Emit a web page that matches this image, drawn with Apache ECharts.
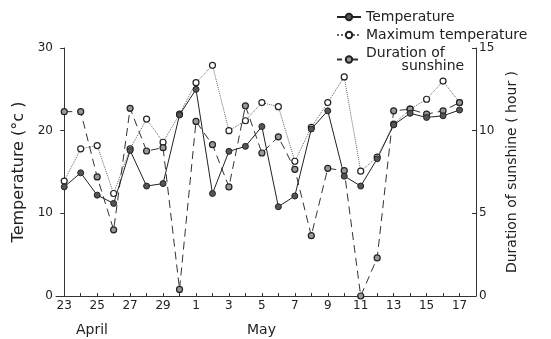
<!DOCTYPE html>
<html>
<head>
<meta charset="utf-8">
<script src="https://cdn.jsdelivr.net/npm/echarts@6/dist/echarts.min.js"></script>
<style>
  html, body { margin: 0; padding: 0; background: #fff; }
  #chart { width: 551px; height: 339px; }
</style>
</head>
<body>
<div id="chart"></div>
<script>
// days from April 23 to May 17
var days = ['23','24','25','26','27','28','29','30','1','2','3','4','5','6','7','8','9','10','11','12','13','14','15','16','17'];
var labelIdx = [0,2,4,6,8,10,12,14,16,18,20,22,24];

var temperature = [13.2, 14.9, 12.2, 11.2, 17.6, 13.3, 13.6, 21.9, 25.0, 12.4, 17.5, 18.1, 20.5,
                   10.8, 12.1, 20.2, 22.4, 14.5, 13.3, 16.6, 20.7, 22.1, 21.6, 21.8, 22.5];
var maxTemperature = [13.9, 17.8, 18.2, 12.4, 17.8, 21.4, 18.6, 22.0, 25.8, 27.9, 20.0, 21.2, 23.4,
                      22.9, 16.3, 20.4, 23.4, 26.5, 15.1, 16.8, 20.8, 22.6, 23.8, 26.0, 23.4];
var sunshine = [11.15, 11.15, 7.2, 4.0, 11.35, 8.77, 8.97, 0.4, 10.56, 9.15, 6.6, 11.5, 8.65,
                9.63, 7.66, 3.65, 7.72, 7.58, 0, 2.3, 11.2, 11.3, 11.0, 11.2, 11.7];

function pairs(arr) {
    return arr.map(function (v, i) { return [i, v]; });
}

var font = 'DejaVu Sans';
var ink = '#222';
var sunName = 'Duration of\n        sunshine';

var myChart = echarts.init(document.getElementById('chart'));
var option = {
    animation: false,
    textStyle: { fontFamily: font, color: ink },
    grid: { left: 56, right: 75, top: 48, bottom: 43 },
    legend: {
        orient: 'vertical',
        left: 331,
        top: 5,
        itemWidth: 24,
        itemHeight: 8,
        itemGap: 4,
        textStyle: { fontFamily: font, fontSize: 14, color: ink, lineHeight: 13 },
        data: [
            { name: 'Temperature' },
            { name: 'Maximum temperature' },
            { name: sunName, lineStyle: { type: [5, 3] } }
        ]
    },
    xAxis: {
        type: 'value',
        min: -0.5,
        max: 25,
        axisLine: { show: true, lineStyle: { color: '#333', width: 1 } },
        axisTick: { show: true, inside: true, length: 3, customValues: days.map(function (d, i) { return i; }), lineStyle: { color: '#333' } },
        axisLabel: {
            customValues: labelIdx,
            fontSize: 12, color: ink, margin: 4,
            formatter: function (v) { return days[Math.round(v)]; }
        },
        splitLine: { show: false }
    },
    yAxis: [{
        type: 'value',
        min: 0, max: 30, interval: 10,
        name: 'Temperature (°c )',
        nameLocation: 'middle',
        nameGap: 27,
        nameRotate: 90,
        nameTextStyle: { fontSize: 16, color: ink, fontFamily: font },
        axisLine: { show: true, lineStyle: { color: '#333' } },
        axisTick: { show: true, length: 4, lineStyle: { color: '#333' } },
        axisLabel: { fontSize: 12, color: ink, margin: 3 },
        splitLine: { show: false }
    }, {
        type: 'value',
        min: 0, max: 15, interval: 5,
        name: 'Duration of sunshine ( hour )',
        nameLocation: 'middle',
        nameGap: 26,
        nameRotate: 90,
        nameTextStyle: { fontSize: 14, color: ink, fontFamily: font },
        axisLine: { show: true, lineStyle: { color: '#333' } },
        axisTick: { show: true, inside: true, length: 4, lineStyle: { color: '#333' } },
        axisLabel: { fontSize: 12, color: ink, margin: 3 },
        splitLine: { show: false }
    }],
    graphic: [
        { type: 'text', left: 76, top: 323, style: { text: 'April', font: '14px "DejaVu Sans"', fill: ink } },
        { type: 'text', left: 247, top: 323, style: { text: 'May', font: '14px "DejaVu Sans"', fill: ink } }
    ],
    series: [{
        name: 'Maximum temperature',
        type: 'line',
        yAxisIndex: 0,
        data: pairs(maxTemperature),
        symbol: 'circle',
        symbolSize: 6,
        lineStyle: { color: '#666', width: 1, type: 'dotted' },
        itemStyle: { color: '#fff', borderColor: '#222', borderWidth: 1.2 }
    }, {
        name: sunName,
        type: 'line',
        yAxisIndex: 1,
        data: pairs(sunshine),
        symbol: 'circle',
        symbolSize: 6,
        lineStyle: { color: '#333', width: 1, type: [8, 5] },
        itemStyle: { color: '#999', borderColor: '#222', borderWidth: 1.2 }
    }, {
        name: 'Temperature',
        type: 'line',
        yAxisIndex: 0,
        data: pairs(temperature),
        symbol: 'circle',
        symbolSize: 6,
        lineStyle: { color: '#222', width: 1 },
        itemStyle: { color: '#555', borderColor: '#222', borderWidth: 1 }
    }]
};
myChart.setOption(option);
</script>
</body>
</html>
